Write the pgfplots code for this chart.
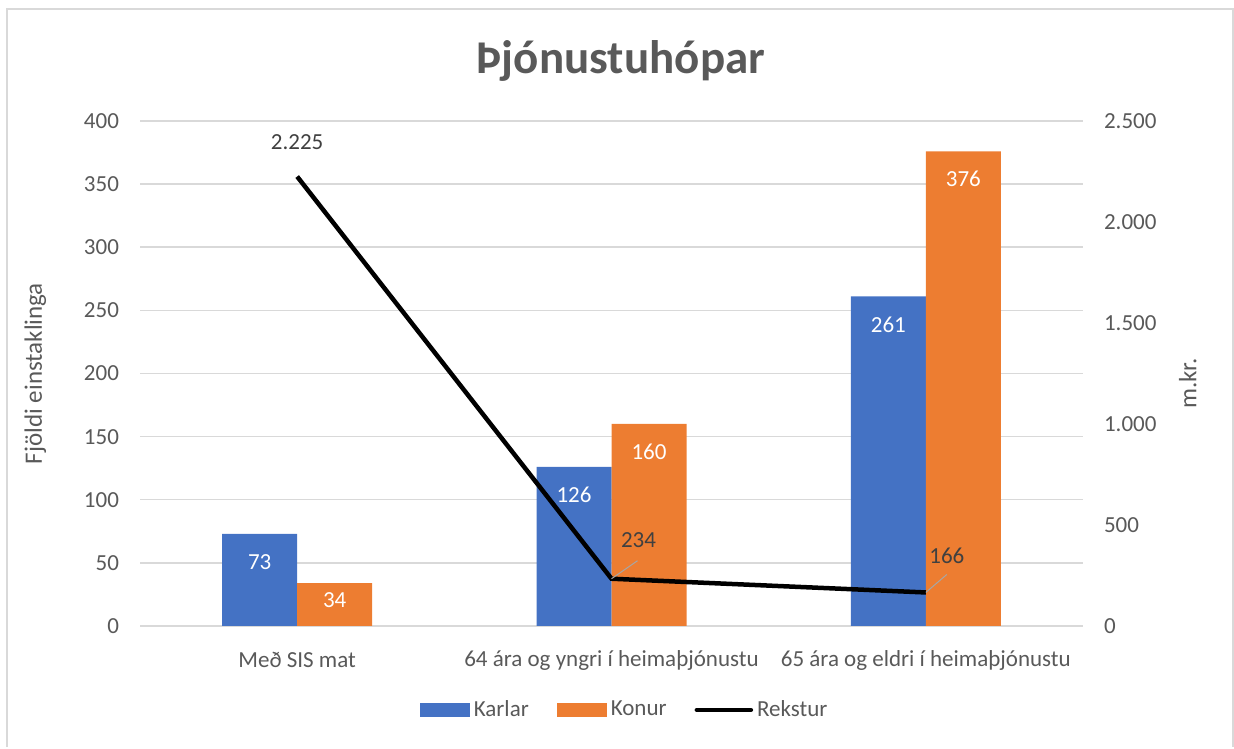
\documentclass[border=0pt]{standalone}
\usepackage{pgfplots}
\pgfplotsset{compat=1.18}
\usepackage{fontspec}
\setmainfont{Carlito}
\definecolor{blar}{HTML}{4472C4}
\definecolor{appels}{HTML}{ED7D31}
\definecolor{txt}{HTML}{595959}
\definecolor{lbl}{HTML}{404040}
\definecolor{grd}{HTML}{D9D9D9}
\newcommand{\tf}{\fontsize{11.5}{14}\selectfont}
\newcommand{\lf}{\fontsize{12.5}{15}\selectfont}

\pgfplotsset{
  base/.style={
    at={(70pt,60.5pt)}, anchor=south west,
    scale only axis, width=471.5pt, height=252.5pt,
    xmin=-0.5, xmax=2.5,
    axis line style={draw=none},
    major tick length=0pt,
    tick label style={font=\tf, text=txt},
    /pgf/number format/assume math mode=true,
    /pgf/number format/1000 sep={.},
    scaled y ticks=false,
  },
}

\begin{document}
\begin{tikzpicture}[x=0.5pt,y=0.5pt]
\path (0,0) rectangle (1234,747);
\draw[grd, line width=1pt] (7,0) -- (7,738) -- (1233,738) -- (1233,0);
\node[font=\bfseries\fontsize{23.5}{28}\selectfont, text=txt] at (621,686) {Þjónustuhópar};

\begin{axis}[
  base,
  ybar, ybar=0pt, bar width=37.5pt,
  ymin=0, ymax=400,
  ytick={0,50,...,400},
  xtick={0,1,2},
  xticklabels={Með SIS mat, 64 ára og yngri í heimaþjónustu, 65 ára og eldri í heimaþjónustu},
  xticklabel style={anchor=center, yshift=-17pt},
  yticklabel style={xshift=-7pt},
  ymajorgrids, grid style={grd, line width=0.75pt},
  ylabel={Fjöldi einstaklinga},
  every axis y label/.style={at={(rel axis cs:-0.111,0.5)}, rotate=90, anchor=center,
    font=\lf, text=txt},
  nodes near coords,
  visualization depends on={rawy \as \ry},
  every node near coord/.append style={anchor=center, text=white, font=\tf,
    yshift={-1*min(14,0.2525*\ry)}},
  legend columns=3,
  legend style={at={(rel axis cs:0.515,-0.166)}, anchor=center, draw=none,
    font=\tf, text=txt, fill=none,
    /tikz/every even column/.append style={column sep=12pt}},
]
\addplot[fill=blar, draw=none,
  legend image code/.code={\fill[blar] (0pt,-3.5pt) rectangle (25pt,3.5pt);}]
  coordinates {(0,73) (1,126) (2,261)};
\addlegendentry{Karlar}
\addplot[fill=appels, draw=none,
  legend image code/.code={\fill[appels] (0pt,-3.5pt) rectangle (25pt,3.5pt);}]
  coordinates {(0,34) (1,160) (2,376)};
\addlegendentry{Konur}
\addlegendimage{legend image code/.code={\draw[black, line width=2.25pt, line cap=round] (0pt,0pt) -- (27pt,0pt);}}
\addlegendentry{Rekstur}
\end{axis}

\begin{axis}[
  base,
  ymin=0, ymax=2500,
  ytick={0,500,...,2500},
  yticklabel pos=right,
  yticklabel style={xshift=7pt},
  hide x axis,
  ylabel={m.kr.},
  every axis y label/.style={at={(rel axis cs:1.111,0.48)}, rotate=90, anchor=center,
    font=\lf, text=txt},
]
\addplot[black, line width=2.25pt, mark=none,
  nodes near coords,
  every node near coord/.append style={anchor=center, text=lbl, font=\tf},
  coordinate style/.condition={\coordindex==0}{yshift=17pt},
  coordinate style/.condition={\coordindex==1}{xshift=13.5pt, yshift=19.5pt,
    append after command={(\tikzlastnode.center) ++(-13.5pt,-19.5pt) edge[gray!70, line width=0.5pt] ++(13pt,9pt)}},
  coordinate style/.condition={\coordindex==2}{xshift=10.5pt, yshift=18.5pt,
    append after command={(\tikzlastnode.center) ++(-10.5pt,-18.5pt) edge[gray!70, line width=0.5pt] ++(10.5pt,9pt)}},
]
  coordinates {(0,2225) (1,234) (2,166)};
\end{axis}
\end{tikzpicture}
\end{document}
